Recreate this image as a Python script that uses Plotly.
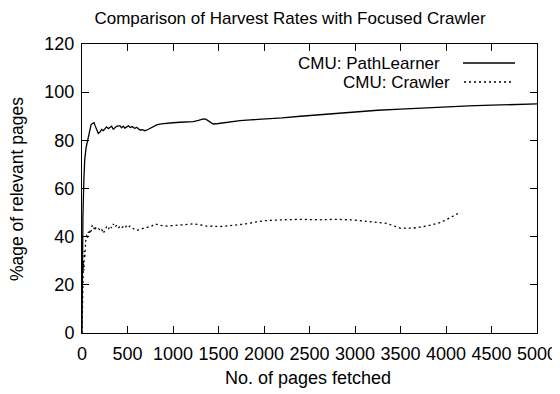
import plotly.graph_objects as go

# PathLearner series
pl_x = [0, 5, 10, 20, 30, 45, 60, 70, 85, 100, 115, 132, 145, 160, 179, 200, 215, 234, 250, 270,
        290, 308, 325, 344, 360, 380, 400, 418, 435, 455, 470, 491, 510, 530, 550, 564, 580, 600,
        620, 637, 660, 692, 720, 747, 780, 821, 870, 931, 1000, 1077, 1150, 1223, 1280, 1333, 1360,
        1388, 1415, 1443, 1500, 1553, 1650, 1736, 1850, 1950, 2050, 2200, 2400, 2600, 2800, 3000,
        3250, 3500, 3750, 4000, 4250, 4500, 4750, 5000]
pl_y = [0, 30, 48, 63, 72, 77, 80, 82, 85, 86.5, 87, 87.3, 86, 84.5, 82.9, 83.5, 84.5, 84, 84.8, 85.6,
        84.9, 85.4, 85.9, 84.6, 85.3, 85.8, 86, 86, 85.2, 85.9, 85.1, 85.4, 86, 85.3, 85.7, 85.4, 84.9, 85.4,
        84.7, 84.3, 84.4, 84, 84.4, 85, 85.7, 86.4, 86.8, 87.1, 87.3, 87.5, 87.6, 87.8, 88.3, 88.9, 88.8,
        88.2, 87.4, 86.8, 87, 87.3, 87.8, 88.2, 88.5, 88.7, 88.8, 89.3, 90, 90.6, 91.2, 91.9,
        92.5, 93, 93.5, 93.9, 94.3, 94.6, 94.9, 95.1]

# Crawler series
cr_x = [0, 5, 10, 15, 20, 25, 30, 40, 51, 60, 70, 80, 90, 100, 110, 124, 140, 155, 179, 200,
        215, 234, 250, 271, 290, 310, 325, 344, 360, 380, 399, 420, 440, 454, 475, 490, 510, 527,
        550, 575, 600, 619, 640, 660, 692, 720, 745, 766, 802, 860, 931, 1000, 1077, 1150, 1223,
        1300, 1370, 1450, 1516, 1600, 1700, 1800, 1900, 2000, 2200, 2400, 2600, 2800, 3000, 3200,
        3350, 3500, 3650, 3800, 3950, 4050, 4150]
cr_y = [0, 12, 22, 30, 26, 34, 31, 38, 40.7, 39.5, 42, 41, 43, 42.2, 44.5, 44.8, 42.5, 44, 43.5, 42.6,
        43.2, 41.4, 42.8, 44.2, 43.1, 44.5, 43.6, 45.3, 44, 44.6, 43.5, 44.5, 43.8, 44.2, 43.6, 44.6, 43.9, 44.4,
        43.6, 43.2, 42.6, 42.8, 43.1, 43.5, 43.7, 43.9, 44.1, 44.4, 45.3, 44.7, 44.4, 44.6, 44.8, 45, 45.3,
        44.9, 44.4, 44.3, 44.2, 44.5, 44.8, 45.3, 46, 46.6, 47, 47.2, 47, 47.2, 46.9, 46.2,
        45.5, 43.5, 43.6, 44.5, 46, 48, 50]

series_names = ["CMU: PathLearner", "CMU: Crawler"]
x_ticks = [0, 500, 1000, 1500, 2000, 2500, 3000, 3500, 4000, 4500, 5000]
y_ticks = [0, 20, 40, 60, 80, 100, 120]
x_title = "No. of pages fetched"
y_title = "%age of relevant pages"
chart_title = "Comparison of Harvest Rates with Focused Crawler"

FONT = "Liberation Sans, Arial, sans-serif"
OFF = 8  # page body margin
W, H = 560 - OFF, 394 - OFF
ml, mr, mt, mb = 82 - OFF, 23, 44 - OFF, 61

fig = go.Figure()
fig.add_trace(go.Scatter(x=pl_x, y=pl_y, mode="lines", name=series_names[0],
                         line=dict(color="black", width=1.3), showlegend=False))
fig.add_trace(go.Scatter(x=cr_x, y=cr_y, mode="lines", name=series_names[1],
                         line=dict(color="black", width=1.3, dash="2px,3px"), showlegend=False))

def px2paper(px, py):
    px, py = px - OFF, py - OFF
    return (px - ml) / (W - ml - mr), 1 - (py - mt) / (H - mt - mb)

# Legend (gnuplot style: text then sample)
leg = [(series_names[0], 442, 63, "solid", 463, 515),
       (series_names[1], 452, 82, "2px,3px", 464, 513)]
for name, tx, ty, dash, sx0, sx1 in leg:
    ax, ay = px2paper(tx, ty)
    fig.add_annotation(x=ax, y=ay, xref="paper", yref="paper", text=name, showarrow=False,
                       xanchor="right", yanchor="middle", font=dict(family=FONT, size=17, color="black"))
    x0, y0 = px2paper(sx0, ty)
    x1, _ = px2paper(sx1, ty)
    fig.add_shape(type="line", xref="paper", yref="paper", x0=x0, x1=x1, y0=y0, y1=y0,
                  line=dict(color="black", width=1.3, dash=dash))

# Axis titles
xt_x, xt_y = px2paper(308, 378)
fig.add_annotation(x=xt_x, y=xt_y, xref="paper", yref="paper", text=x_title, showarrow=False,
                   xanchor="center", yanchor="middle", font=dict(family=FONT, size=18, color="black"))
yt_x, yt_y = px2paper(17, 189)
fig.add_annotation(x=yt_x, y=yt_y, xref="paper", yref="paper", text=y_title, showarrow=False,
                   textangle=-90, xanchor="center", yanchor="middle",
                   font=dict(family=FONT, size=17.5, color="black"))

fig.update_layout(
    width=W, height=H,
    margin=dict(l=ml, r=mr, t=mt, b=mb),
    paper_bgcolor="white", plot_bgcolor="white",
    font=dict(family=FONT, size=18, color="black"),
    title=dict(text=chart_title, x=(290 - OFF) / W, xanchor="center",
               y=1 - (18 - OFF) / H, yanchor="middle", font=dict(family=FONT, size=17, color="black")),
)
fig.update_xaxes(range=[0, 5000], tickvals=x_ticks, ticks="inside", ticklen=7, tickcolor="black",
                 showline=True, linecolor="black", linewidth=1, mirror="allticks", showgrid=False,
                 zeroline=False, tickfont=dict(size=18), automargin=False, ticklabelstandoff=4)
fig.update_yaxes(range=[0, 120], tickvals=y_ticks, ticks="inside", ticklen=7, tickcolor="black",
                 showline=True, linecolor="black", linewidth=1, mirror="allticks", showgrid=False,
                 zeroline=False, tickfont=dict(size=18), automargin=False, ticklabelstandoff=3)

fig.write_html("out.html")
